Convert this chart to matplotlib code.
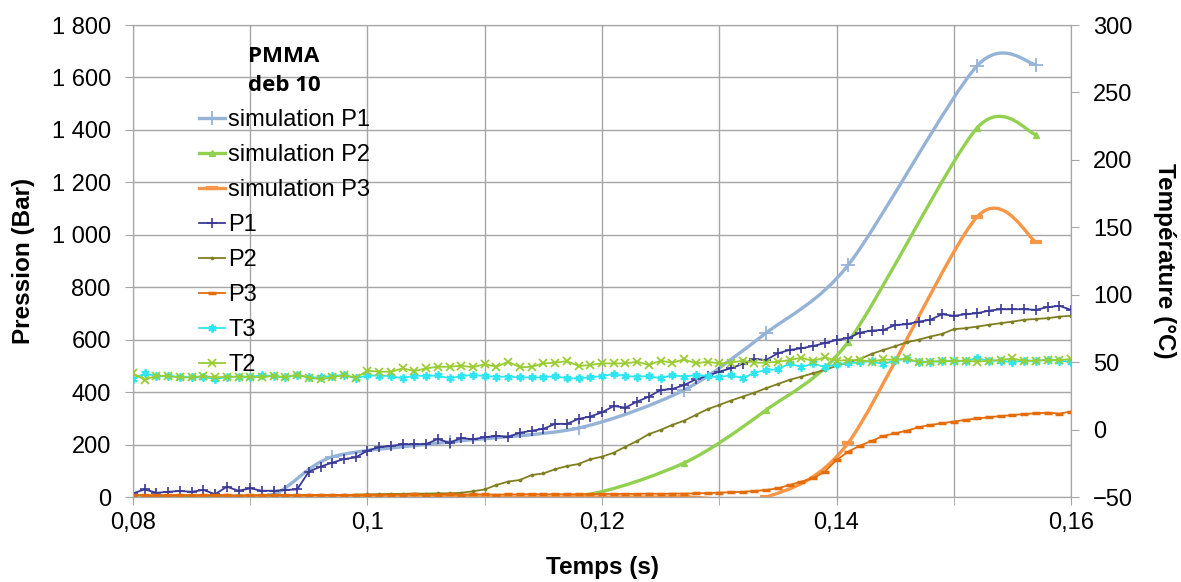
import numpy as np
import matplotlib
matplotlib.use("Agg")
import matplotlib.pyplot as plt
from matplotlib.path import Path
from matplotlib.patches import PathPatch
from matplotlib.lines import Line2D
from matplotlib.ticker import FuncFormatter, MultipleLocator

plt.rcParams['font.family'] = ['Liberation Sans', 'DejaVu Sans']

# measured signals, sampled every 1 ms from 0.080 s to 0.160 s
t_meas = np.round(np.arange(0.080, 0.1605, 0.001), 3)

p1 = [14, 29, 16, 20, 23, 20, 27, 11, 39, 24, 33, 24, 24, 27, 29, 97, 116, 131, 145, 151,
      177, 190, 195, 201, 201, 202, 221, 207, 225, 220, 228, 233,
      230, 245, 253, 260, 279, 279, 298, 307, 323, 347, 341, 364, 383, 408, 412, 427,
      449, 462, 478, 491, 508, 526, 523, 548, 561, 567, 576, 587, 599, 606, 627, 635,
      637, 656, 659, 669, 676, 697, 691, 697, 701, 711, 716, 716, 716, 714, 724, 729, 714]

p2 = [5, 5, 4, 5, 6, 5, 6, 5, 6, 6, 6, 7, 6, 7, 7, 8, 7, 8, 8, 9,
      10, 11, 12, 12, 13, 13, 14, 14, 16, 22,
      29, 46, 59, 65, 84, 90, 106, 118, 126, 144, 154, 169, 192, 214, 240, 256, 275,
      291, 313, 335, 351, 368, 383, 398, 415, 431, 447, 459, 472, 485, 500, 514, 526, 546,
      561, 575, 590, 600, 612, 622, 640, 644, 650, 657, 663, 669, 676, 679, 682, 688, 691]

p3 = [8, 7, 6, 7, 8, 6, 7, 8, 6, 5, 7, 6, 7, 8, 6, 7, 8, 7, 8, 8,
      9, 8, 9, 9, 10, 8, 9, 10, 9, 10, 10, 9, 10, 10, 11, 10, 11, 10, 11, 11,
      12, 11, 12, 12, 13, 12, 13, 13, 14, 15,
      17, 18, 20, 23, 27, 33, 46, 59, 71, 97, 141,
      173, 196, 214, 233, 243, 253, 266, 275, 281, 288, 294, 300, 304, 309, 312, 317,
      319, 322, 318, 326]

t3 = [37.3, 41.7, 39.7, 39.7, 39.2, 38.7, 39.2, 37.3, 39.2, 39.2, 39.2, 40.2, 39.7, 38.7,
      40.5, 38.7, 38.7, 40.0, 40.2, 38.0, 40.2, 40.0, 39.7, 38.0, 40.0, 39.7, 40.2, 38.0,
      39.7, 40.5,
      39.7, 39.2, 39.2, 38.7, 38.7, 38.7, 39.7, 38.0, 38.0, 38.7, 39.7, 41.2, 39.7, 39.2,
      39.7, 38.0, 40.5, 39.2, 40.5, 39.7, 38.7, 40.5, 38.0, 42.2, 44.2, 44.7, 49.1, 46.2,
      49.1, 46.2, 48.6,
      49.1, 49.9, 50.8, 48.4, 51.6, 52.1, 49.9, 50.3, 50.8, 50.8, 51.1, 52.8, 51.1, 51.1,
      49.9, 51.1, 51.1, 51.6, 51.1, 50.3]

t2 = [41.7, 36.8, 40.0, 39.7, 38.7, 38.7, 39.7, 38.7, 39.2, 39.2, 39.2, 38.7, 40.0, 38.7,
      40.7, 38.5, 37.5, 38.7, 40.5, 38.5, 43.7, 42.9, 42.9, 45.4, 43.4, 45.4, 46.6, 46.6,
      47.4, 46.2,
      48.6, 46.6, 50.3, 46.2, 46.6, 49.1, 49.6, 50.8, 47.1, 47.9, 49.1, 49.1, 49.1, 50.3,
      47.9, 51.1, 49.6, 52.1, 49.1, 50.3, 49.1, 49.6, 51.1, 49.6, 49.6, 50.3, 51.6, 53.3,
      50.8, 53.6, 51.1,
      51.6, 51.6, 50.3, 52.1, 51.6, 52.8, 49.9, 50.3, 50.8, 50.8, 51.1, 50.3, 51.1, 51.6,
      52.8, 50.8, 51.1, 51.6, 51.6, 52.3]

# simulation points (drawn as smoothed lines, Excel style)
t_sim = [0.082, 0.087, 0.092, 0.097, 0.107, 0.118, 0.127, 0.134, 0.141, 0.152, 0.157]
sim_p1 = [5, 5, 10, 153, 210, 263, 408, 626, 885, 1645, 1649]
sim_p2 = [2, 2, 2, 2, 2, 3, 130, 332, 592, 1408, 1382]
sim_p3 = [0, 0, 0, 0, 0, 0, 0, 0, 207, 1069, 973]

C_SP1, C_SP2, C_SP3 = "#95B3D7", "#92D050", "#F79646"
C_P1, C_P2, C_P3 = "#3A3A96", "#7F7F22", "#E46C0A"
C_T3, C_T2 = "#2EE6F2", "#9ACD32"
GRID = "#A6A6A6"


def smooth_path(x, y, k=0.14):
    # catmull-rom through the points, as cubic bezier segments
    pts = np.column_stack([x, y]).astype(float)
    verts, codes = [pts[0]], [Path.MOVETO]
    n = len(pts)
    for i in range(n - 1):
        a = pts[i - 1] if i > 0 else pts[i]
        b, c = pts[i], pts[i + 1]
        d = pts[i + 2] if i + 2 < n else pts[i + 1]
        verts += [b + (c - a) * k, c - (d - b) * k, c]
        codes += [Path.CURVE4] * 3
    return Path(verts, codes)


fig = plt.figure(figsize=(11.81, 5.82), dpi=100)
ax = fig.add_axes([0.1126, 0.146, 0.7943, 0.811])
ax2 = ax.twinx()

sims = [
    ("simulation P1", sim_p1, C_SP1, "+", 10, 1.3),
    ("simulation P2", sim_p2, C_SP2, "^", 4, 1.0),
    ("simulation P3", sim_p3, C_SP3, "_", 8, 3.0),
]
handles = []
for name, vals, col, mk, ms, mew in sims:
    ax.add_patch(PathPatch(smooth_path(t_sim, vals), fill=False, edgecolor=col, lw=2.4,
                           capstyle="round", joinstyle="round", zorder=2))
    ax.plot(t_sim, vals, ls="none", marker=mk, ms=ms, mew=mew, color=col, zorder=2)
    handles.append(Line2D([], [], color=col, lw=2.4, marker=mk, ms=ms, mew=mew))

meas = [
    ("P1", p1, C_P1, "+", 7, 1.2),
    ("P2", p2, C_P2, "o", 2.2, 0.5),
    ("P3", p3, C_P3, "_", 6, 2.5),
]
for name, vals, col, mk, ms, mew in meas:
    ln, = ax.plot(t_meas, vals, color=col, lw=1.3, marker=mk, ms=ms, mew=mew, zorder=3)
    handles.append(ln)

for name, vals, col, mk in [("T3", t3, C_T3, (6, 2, 0)), ("T2", t2, C_T2, "x")]:
    ln, = ax2.plot(t_meas, vals, color=col, lw=1.3, marker=mk, ms=6, mew=1.3)
    handles.append(ln)

labels = ["simulation P1", "simulation P2", "simulation P3", "P1", "P2", "P3", "T3", "T2"]

ax.set_xlim(0.08, 0.16)
ax.set_ylim(0, 1800)
ax2.set_ylim(-50, 300)

ax.xaxis.set_major_locator(MultipleLocator(0.02))
ax.xaxis.set_minor_locator(MultipleLocator(0.01))
ax.xaxis.set_major_formatter(FuncFormatter(lambda v, p: f"{v:.2f}".rstrip("0").replace(".", ",")))
ax.yaxis.set_major_locator(MultipleLocator(200))
ax.yaxis.set_major_formatter(FuncFormatter(lambda v, p: f"{int(v):,}".replace(",", " ")))
ax2.yaxis.set_major_locator(MultipleLocator(50))

ax.grid(True, which="both", color=GRID, lw=1)
ax.set_axisbelow(True)
for a in (ax, ax2):
    for s in a.spines.values():
        s.set_color(GRID)
ax.tick_params(axis="both", which="both", colors=GRID, labelcolor="black", labelsize=17,
               direction="out", length=6)
ax.tick_params(axis="y", pad=10)
ax.tick_params(axis="x", pad=5)
ax2.tick_params(axis="y", colors=GRID, labelcolor="black", labelsize=17, direction="out",
                length=6, pad=10)

ax.set_ylabel("Pression (Bar)", fontsize=17.5, fontweight="bold")
ax.yaxis.set_label_coords(-0.1045, 0.5)
ax.set_xlabel("Temps (s)", fontsize=17.5, fontweight="bold")
ax.xaxis.set_label_coords(0.5, -0.125)
ax2.set_ylabel("Température (°C)", fontsize=17.5, fontweight="bold", rotation=-90, va="bottom")
ax2.yaxis.set_label_coords(1.087, 0.5)

leg = ax2.legend(handles, labels, title="PMMA\ndeb 10", loc="upper left",
                 bbox_to_anchor=(0.06, 0.975), frameon=False, fontsize=17,
                 handlelength=1.1, handletextpad=0.15, labelspacing=0.55, borderaxespad=0,
                 title_fontproperties={"weight": "bold", "size": 16, "family": "Open Sans"})
leg.get_title().set_linespacing(1.5)

fig.savefig("out.png", dpi=100)
